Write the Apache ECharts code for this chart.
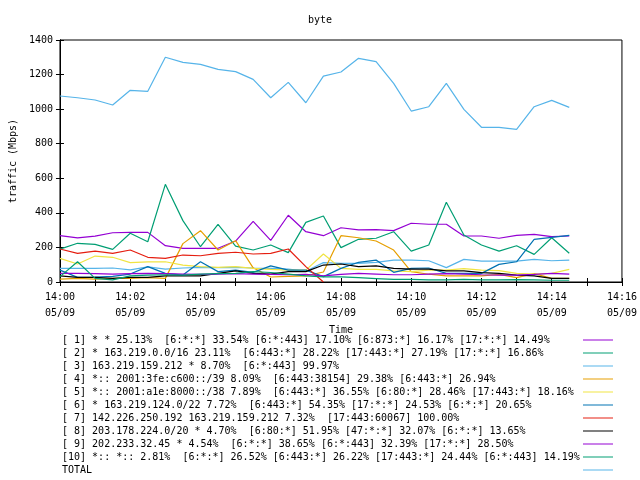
<!DOCTYPE html>
<html><head><meta charset="utf-8">
<script src="https://cdn.jsdelivr.net/npm/echarts@6/dist/echarts.min.js"></script>
<style>html,body{margin:0;padding:0;background:#fff}#c{width:640px;height:480px}</style>
</head><body><div id="c"></div>
<script>
const times = ['14:00:00','14:00:30','14:01:00','14:01:30','14:02:00','14:02:30','14:03:00','14:03:30','14:04:00','14:04:30',
  '14:05:00','14:05:30','14:06:00','14:06:30','14:07:00','14:07:30','14:08:00','14:08:30','14:09:00','14:09:30',
  '14:10:00','14:10:30','14:11:00','14:11:30','14:12:00','14:12:30','14:13:00','14:13:30','14:14:00','14:14:30'];
const xTickLabels = ['14:00','14:02','14:04','14:06','14:08','14:10','14:12','14:14','14:16'];
const dateLabel = '05/09';
const names = [
  '[ 1] * * 25.13%  [6:*:*] 33.54% [6:*:443] 17.10% [6:873:*] 16.17% [17:*:*] 14.49%',
  '[ 2] * 163.219.0.0/16 23.11%  [6:443:*] 28.22% [17:443:*] 27.19% [17:*:*] 16.86%',
  '[ 3] 163.219.159.212 * 8.70%  [6:*:443] 99.97%',
  '[ 4] *:: 2001:3fe:c600::/39 8.09%  [6:443:38154] 29.38% [6:443:*] 26.94%',
  '[ 5] *:: 2001:a1e:8000::/38 7.89%  [6:443:*] 36.55% [6:80:*] 28.46% [17:443:*] 18.16%',
  '[ 6] * 163.219.124.0/22 7.72%  [6:443:*] 54.35% [17:*:*] 24.53% [6:*:*] 20.65%',
  '[ 7] 142.226.250.192 163.219.159.212 7.32%  [17:443:60067] 100.00%',
  '[ 8] 203.178.224.0/20 * 4.70%  [6:80:*] 51.95% [47:*:*] 32.07% [6:*:*] 13.65%',
  '[ 9] 202.233.32.45 * 4.54%  [6:*:*] 38.65% [6:*:443] 32.39% [17:*:*] 28.50%',
  '[10] *:: *:: 2.81%  [6:*:*] 26.52% [6:443:*] 26.22% [17:443:*] 24.44% [6:*:443] 14.19%',
  'TOTAL'
];
const colors = ['#9400d3','#009e73','#56b4e9','#e69f00','#f0e442','#0072b2','#e51e10','#000000','#9400d3','#009e73','#56b4e9'];
const s1 = [268,255,265,285,287,287,210,195,195,195,237,351,241,386,291,268,314,301,303,297,340,334,334,266,266,253,270,276,262,266];
const s2 = [190,224,218,189,282,233,565,355,204,334,208,185,214,170,345,382,199,247,253,291,179,214,461,272,214,179,210,160,256,166];
const s3 = [79,79,79,81,70,87,74,81,85,83,85,81,79,75,62,112,108,108,114,127,127,123,83,131,121,121,121,131,123,127];
const s4 = [17,21,17,21,21,25,21,222,297,185,239,82,29,33,35,58,268,256,237,185,60,45,35,35,35,44,25,48,21,21];
const s5 = [137,104,150,143,112,117,117,98,89,85,89,79,73,69,69,162,79,73,73,64,60,69,69,77,69,66,50,46,50,73];
const s6 = [69,27,29,33,46,89,50,40,117,60,69,56,93,69,69,31,79,114,127,56,79,81,50,50,50,102,117,247,258,270];
const s7 = [191,166,179,166,185,143,137,156,152,166,172,162,166,191,89,0,null,null,null,null,null,null,null,null,null,null,null,null,null,null];
const s8 = [35,27,27,21,27,27,35,35,35,50,64,50,46,60,60,98,104,89,93,79,75,75,64,64,54,50,40,35,21,21];
const s9 = [50,50,48,46,48,50,48,46,44,46,48,46,44,42,44,35,44,50,46,42,42,46,48,46,42,40,40,44,50,46];
const s10 = [31,117,21,12,35,40,42,40,45,48,50,60,55,45,35,30,30,25,20,15,15,12,12,15,12,12,14,12,10,10];
const total = [1076,1066,1053,1024,1109,1103,1300,1271,1259,1230,1217,1172,1066,1155,1037,1191,1215,1294,1275,1149,989,1014,1149,999,895,895,883,1014,1051,1010];
const seriesValues = [s1,s2,s3,s4,s5,s6,s7,s8,s9,s10,total];

const FONT = 'DejaVu Sans Mono';
function toMin(t){const p=t.split(':').map(Number);return (p[0]-14)*60+p[1]+p[2]/60;}
const xs = times.map(toMin);
const labelMap = {};
xTickLabels.forEach(l=>{labelMap[toMin(l+':00')]=l;});

const chart = echarts.init(document.getElementById('c'), null, {renderer:'canvas'});
chart.setOption({
  animation:false,
  backgroundColor:'#fff',
  title:{text:'byte',left:'center',top:15,padding:0,textStyle:{fontFamily:FONT,fontSize:10,fontWeight:'normal',color:'#000'}},
  grid:{left:58,right:18,top:40,bottom:198,show:true,borderColor:'#000',borderWidth:1},
  legend:{
    orient:'vertical',left:62,top:335,itemGap:3,itemWidth:30,itemHeight:1,icon:'rect',align:'right',
    selectedMode:false,padding:0,
    formatter:n=>'{a|'+n+'}',
    textStyle:{fontFamily:FONT,fontSize:10,color:'#000',rich:{a:{fontFamily:FONT,fontSize:10,width:516,align:'left',color:'#000'}}},
    data:names
  },
  xAxis:[{
    type:'value',min:0,max:16,interval:1,
    name:'Time',nameLocation:'middle',nameGap:40,
    nameTextStyle:{fontFamily:FONT,fontSize:10,color:'#000'},
    axisLine:{lineStyle:{color:'#000',width:1}},
    axisTick:{inside:true,length:4,lineStyle:{color:'#000'}},
    splitLine:{show:false},
    axisLabel:{margin:7,fontFamily:FONT,fontSize:10,color:'#000',lineHeight:16,showMinLabel:true,showMaxLabel:true,
      formatter:v=>labelMap[v]!==undefined?labelMap[v]+'\n'+dateLabel:''}
  },{
    type:'value',min:0,max:16,interval:1,position:'top',
    axisLine:{lineStyle:{color:'#000'}},axisTick:{inside:true,length:4,lineStyle:{color:'#000'}},
    axisLabel:{show:false},splitLine:{show:false}
  }],
  yAxis:[{
    type:'value',min:0,max:1400,interval:200,
    name:'traffic (Mbps)',nameLocation:'middle',nameGap:40,nameRotate:90,
    nameTextStyle:{fontFamily:FONT,fontSize:10,color:'#000'},
    axisLine:{show:true,lineStyle:{color:'#000'}},
    axisTick:{show:true,inside:true,length:4,lineStyle:{color:'#000'}},
    splitLine:{show:false},
    axisLabel:{margin:7,fontFamily:FONT,fontSize:10,color:'#000',formatter:v=>String(v)}
  },{
    type:'value',min:0,max:1400,interval:200,position:'right',
    axisLine:{show:true,lineStyle:{color:'#000'}},
    axisTick:{show:true,inside:true,length:4,lineStyle:{color:'#000'}},
    axisLabel:{show:false},splitLine:{show:false}
  }],
  series:names.map((n,i)=>({
    name:n,type:'line',symbol:'none',showSymbol:false,xAxisIndex:0,yAxisIndex:0,
    color:colors[i],lineStyle:{width:1.2,color:colors[i]},
    data:seriesValues[i].map((v,j)=>[xs[j],v])
  }))
});
</script></body></html>
